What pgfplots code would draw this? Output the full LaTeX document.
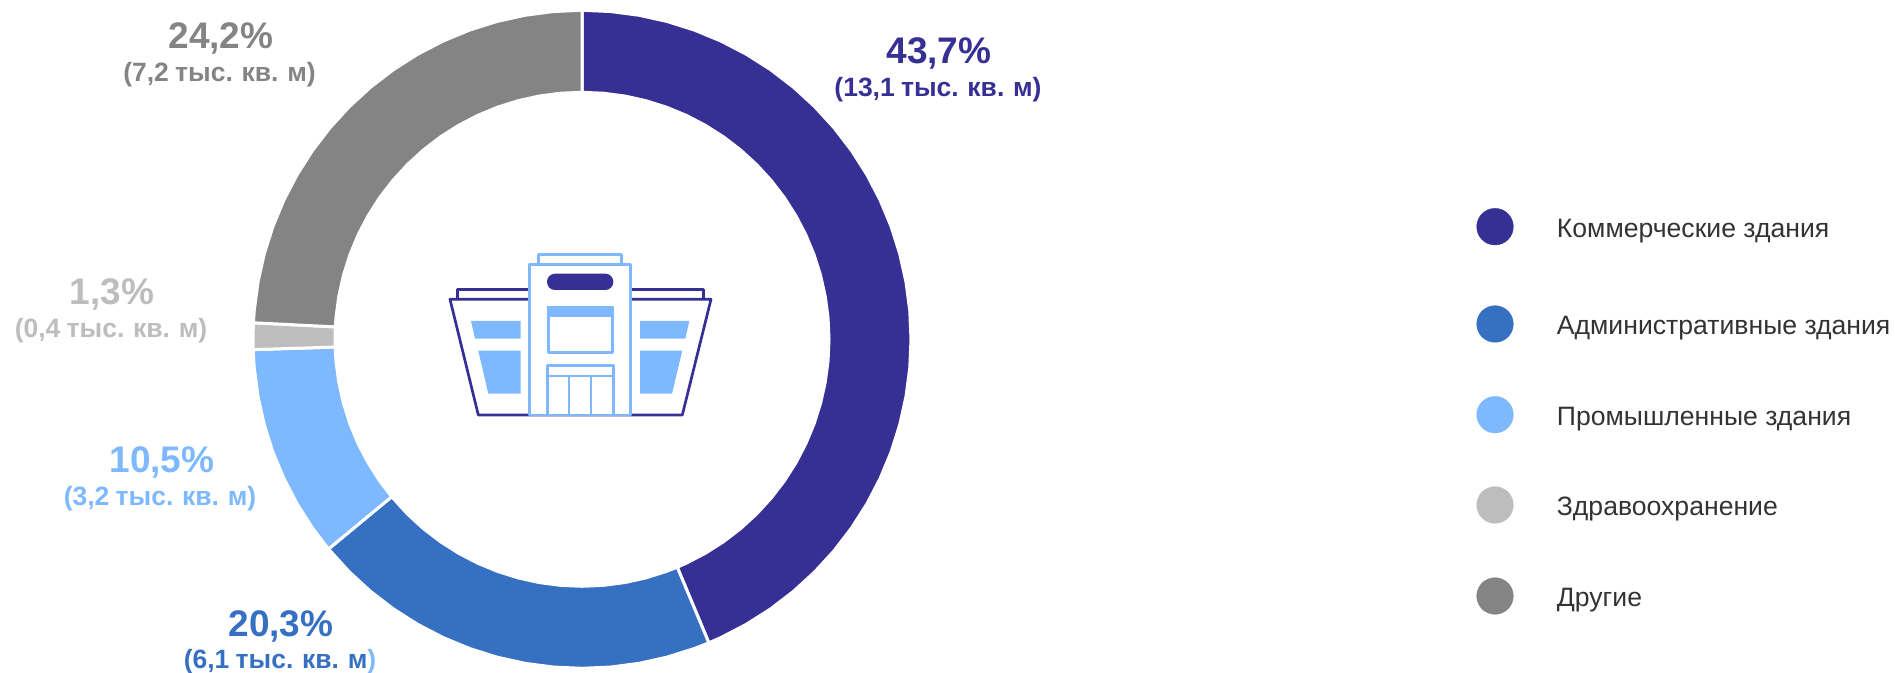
\documentclass[border=0pt]{standalone}
\usepackage{fontspec}
\setmainfont{Liberation Sans}
\newfontfamily\subfont[WordSpace=0.85]{Liberation Sans}
\usepackage{pgfplots}
\pgfplotsset{compat=1.18}

\definecolor{cNavy}{HTML}{363095}
\definecolor{cBlue}{HTML}{3670C2}
\definecolor{cLight}{HTML}{7EB9FF}
\definecolor{cPale}{HTML}{BDBDBD}
\definecolor{cGrey}{HTML}{848484}
\definecolor{cText}{HTML}{333333}

% pixel-positioned labels: x, baseline y, colour, text
\newcommand{\pct}[4]{\node[anchor=base,inner sep=0,text=#3,font=\bfseries\fontsize{37}{37}\selectfont] at (#1,#2) {#4};}
\newcommand{\sub}[4]{\node[anchor=base,inner sep=0,text=#3,font=\subfont\bfseries\fontsize{26.5}{26.5}\selectfont] at (#1,#2) {#4};}
\newcommand{\leg}[2]{\node[anchor=base west,inner sep=0,text=cText,font=\fontsize{26.6}{26.6}\selectfont] at (1556.7,#1) {#2};}

\begin{document}
\begin{tikzpicture}
\useasboundingbox (0,0) rectangle (1895pt,672pt);
\begin{axis}[
    at={(0,0)}, anchor=south west,
    scale only axis, width=1895pt, height=672pt,
    xmin=-582, xmax=1313, ymin=-332.7, ymax=339.3,
    hide axis, clip=false,
    ring/.style={draw=white, line width=3pt, line join=miter, data cs=polar, forget plot},
]
    % 43.7 %
    \addplot[ring, fill=cNavy] coordinates {
        (90,329)(85,329)(80,329)(75,329)(70,329)(65,329)(60,329)(55,329)(50,329)(45,329)(40,329)(35,329)
        (30,329)(25,329)(20,329)(15,329)(10,329)(5,329)(0,329)(-5,329)(-10,329)(-15,329)(-20,329)(-25,329)
        (-30,329)(-35,329)(-40,329)(-45,329)(-50,329)(-55,329)(-60,329)(-65,329)(-67.32,329)
        (-67.32,247)(-65,247)(-60,247)(-55,247)(-50,247)(-45,247)(-40,247)(-35,247)(-30,247)(-25,247)(-20,247)
        (-15,247)(-10,247)(-5,247)(0,247)(5,247)(10,247)(15,247)(20,247)(25,247)(30,247)(35,247)(40,247)
        (45,247)(50,247)(55,247)(60,247)(65,247)(70,247)(75,247)(80,247)(85,247)(90,247)
    } -- cycle;
    % 20.3 %
    \addplot[ring, fill=cBlue] coordinates {
        (-67.32,329)(-70,329)(-75,329)(-80,329)(-85,329)(-90,329)(-95,329)(-100,329)(-105,329)(-110,329)
        (-115,329)(-120,329)(-125,329)(-130,329)(-135,329)(-140.4,329)
        (-140.4,247)(-135,247)(-130,247)(-125,247)(-120,247)(-115,247)(-110,247)(-105,247)(-100,247)
        (-95,247)(-90,247)(-85,247)(-80,247)(-75,247)(-70,247)(-67.32,247)
    } -- cycle;
    % 10.5 %
    \addplot[ring, fill=cLight] coordinates {
        (-140.4,329)(-145,329)(-150,329)(-155,329)(-160,329)(-165,329)(-170,329)(-175,329)(-178.2,329)
        (-178.2,247)(-175,247)(-170,247)(-165,247)(-160,247)(-155,247)(-150,247)(-145,247)(-140.4,247)
    } -- cycle;
    % 1.3 %
    \addplot[ring, fill=cPale] coordinates {
        (-178.2,329)(-180,329)(-182.88,329)(-182.88,247)(-180,247)(-178.2,247)
    } -- cycle;
    % 24.2 %
    \addplot[ring, fill=cGrey] coordinates {
        (-182.88,329)(-185,329)(-190,329)(-195,329)(-200,329)(-205,329)(-210,329)(-215,329)(-220,329)
        (-225,329)(-230,329)(-235,329)(-240,329)(-245,329)(-250,329)(-255,329)(-260,329)(-265,329)(-270,329)
        (-270,247)(-265,247)(-260,247)(-255,247)(-250,247)(-245,247)(-240,247)(-235,247)(-230,247)
        (-225,247)(-220,247)(-215,247)(-210,247)(-205,247)(-200,247)(-195,247)(-190,247)(-185,247)(-182.88,247)
    } -- cycle;

    % legend dots
    \addplot[only marks, mark=*, mark size=18.3pt, color=cNavy] coordinates {(913,112.6)};
    \addplot[only marks, mark=*, mark size=18.3pt, color=cBlue] coordinates {(913,15.3)};
    \addplot[only marks, mark=*, mark size=18.3pt, color=cLight] coordinates {(913,-75.4)};
    \addplot[only marks, mark=*, mark size=18.3pt, color=cPale] coordinates {(913,-165.7)};
    \addplot[only marks, mark=*, mark size=18.3pt, color=cGrey] coordinates {(913,-256.7)};
\end{axis}

\begin{scope}[x=1pt, y=-1pt, shift={(0,672pt)}]
    \pct{939}{64}{cNavy}{43,7\%}
    \sub{938}{97}{cNavy}{(13,1 тыс. кв. м)}
    \pct{221}{49}{cGrey}{24,2\%}
    \sub{219.5}{82}{cGrey}{(7,2 тыс. кв. м)}
    \pct{281}{636}{cBlue}{20,3\%}
    \sub{280}{668.3}{cBlue}{(6,1 тыс. кв. м\textcolor{cLight}{)}}
    \pct{112}{305}{cPale}{1,3\%}
    \sub{111}{338}{cPale}{(0,4 тыс. кв. м)}
    \pct{162}{473}{cLight}{10,5\%}
    \sub{160}{506}{cLight}{(3,2 тыс. кв. м)}

    \leg{237.5}{Коммерческие здания}
    \leg{335}{Административные здания}
    \leg{426}{Промышленные здания}
    \leg{516}{Здравоохранение}
    \leg{606}{Другие}

    % building icon
    \begin{scope}[line width=2.7pt, line join=round]
        \draw[cNavy] (457.3,299.3) -- (457.3,289.3) -- (703.3,289.3) -- (703.3,299.3);
        \draw[cNavy, fill=white] (450,299.3) -- (711,299.3) -- (682.3,415) -- (478.3,415) -- cycle;
        \fill[cLight] (471,321) -- (520.7,321) -- (520.7,338.7) -- (475,338.7) -- cycle;
        \fill[cLight] (478.3,350.7) -- (520.7,350.7) -- (520.7,393.7) -- (488.3,393.7) -- cycle;
        \fill[cLight] (640,321) -- (689.3,321) -- (685.3,338.7) -- (640,338.7) -- cycle;
        \fill[cLight] (640,350.7) -- (682.3,350.7) -- (672,393.7) -- (640,393.7) -- cycle;
        \draw[cLight, fill=white] (538.7,264.7) rectangle (621.3,254.7);
        \draw[cLight, fill=white] (529.7,264.7) rectangle (630.3,415);
        \fill[cNavy, rounded corners=8pt] (547,273.7) rectangle (613.3,290);
        \fill[cLight] (547.3,306) rectangle (613.3,317.3);
        \draw[cLight] (548.4,307) rectangle (612.2,352.2);
        \draw[cLight] (547.2,365.2) rectangle (613.2,415);
        \draw[cLight] (547.2,376) -- (613.2,376);
        \draw[cLight] (569,376) -- (569,415);
        \draw[cLight] (591,376) -- (591,415);
    \end{scope}
\end{scope}
\end{tikzpicture}
\end{document}
